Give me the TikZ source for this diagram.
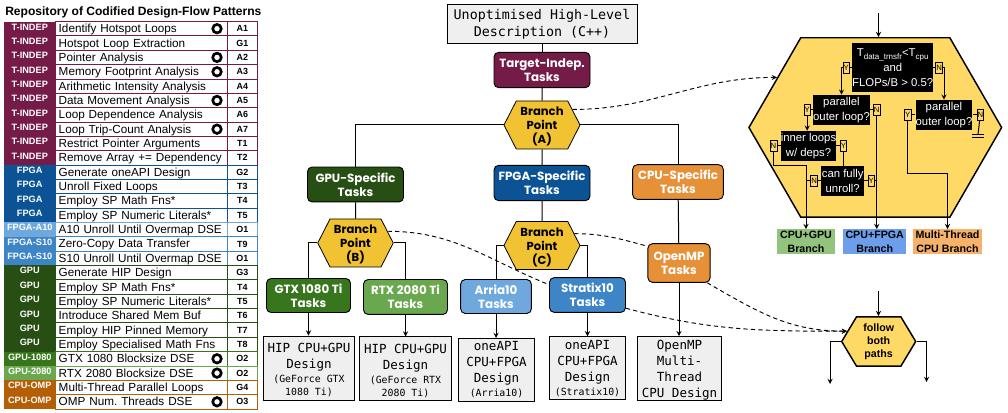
\documentclass[tikz,border=0pt]{standalone}
\usepackage{fontspec}
\setmainfont{Liberation Sans}
\newfontfamily\taskfont{Poppins}
\newfontfamily\codefont{DejaVu Sans Mono}
\usepackage{tikz}
\usetikzlibrary{positioning,shapes.geometric,shapes.symbols}
\definecolor{tindep}{HTML}{741B47}
\definecolor{fpga}{HTML}{0B5394}
\definecolor{aten}{HTML}{6FA8DC}
\definecolor{sten}{HTML}{3D85C6}
\definecolor{gpu}{HTML}{274E13}
\definecolor{gtx}{HTML}{38761D}
\definecolor{rtx}{HTML}{6AA84F}
\definecolor{omp}{HTML}{B45F06}
\definecolor{cpu}{HTML}{E69138}
\definecolor{gold}{HTML}{F1C232}
\definecolor{sand}{HTML}{FFD966}
\definecolor{paper}{HTML}{EFEFEF}
\definecolor{brgreen}{HTML}{93C47D}
\definecolor{brblue}{HTML}{6D9EEB}
\definecolor{brorange}{HTML}{F6B26B}
\newcommand{\subtxt}[1]{{\fontsize{7.4}{9}\selectfont #1}}
\newcommand{\lowtxt}[1]{\raisebox{-2.2pt}{\fontsize{6}{7}\selectfont #1}}
\newcommand{\toppad}[1]{\rule{0pt}{#1}}
\tikzset{
	taskbox/.style={draw=black,line width=0.7pt,rounded corners=3.5pt,text=white,align=center,inner sep=0pt,
		font=\taskfont\bfseries\fontsize{8.9}{10.5}\selectfont},
	designbox/.style={draw=black,line width=0.7pt,fill=paper,align=center,inner sep=0pt,
		font=\codefont\fontsize{9.4}{12}\selectfont},
	branchhex/.style={draw=black,line width=0.6pt,fill=gold,shape=signal,signal to=west and east,signal pointer angle=126,
		align=center,inner sep=0pt,font=\taskfont\bfseries\fontsize{8.7}{10.5}\selectfont},
	yellowhex/.style={draw=black,line width=1.1pt,fill=sand,shape=signal,signal to=west and east,inner sep=0pt},
	blackbox/.style={fill=black,text=white,align=center,inner sep=0pt,font=\fontsize{8.5}{11.25}\selectfont},
	yntag/.style={draw=black,line width=0.5pt,fill=sand,inner sep=0pt,minimum width=5pt,minimum height=8.25pt,
		font=\fontsize{5.8}{6}\selectfont},
	endbox/.style={align=center,inner sep=0pt,minimum width=44pt,minimum height=18.5pt,
		font=\bfseries\fontsize{8}{10.5}\selectfont},
	flowline/.style={black,line width=0.75pt},
	flowarrow/.style={flowline,-stealth},
	dashflow/.style={black,line width=0.7pt,dash pattern=on 3.2pt off 2.4pt},
	tagcell/.style={anchor=west,inner sep=0pt,minimum width=38.25pt,minimum height=10.76pt,text=white,
		text height=5pt,text depth=3pt,font=\bfseries\fontsize{6.9}{8}\selectfont},
	textcell/.style={anchor=west,inner sep=0pt,line width=0.6pt,minimum height=10.76pt,minimum width=129pt,
		text width=126pt,text height=7pt,text depth=1pt,font=\fontsize{8.8}{9}\selectfont},
	codecell/.style={anchor=west,inner sep=0pt,line width=0.6pt,minimum height=10.76pt,minimum width=22.5pt,
		font=\bfseries\fontsize{6.7}{8}\selectfont},
	ringmark/.style={circle,draw=black,fill=white,line width=2pt,minimum size=6.4pt,inner sep=0pt}
}
\begin{document}
\begin{tikzpicture}[x=0.75pt,y=-0.75pt]
	\useasboundingbox (0,0) rectangle (1008,413);
	\node[anchor=west,inner sep=0pt,font=\bfseries\fontsize{9.05}{10}\selectfont] (title) at (5,12) {Repository of Codified Design-Flow Patterns};
	\foreach \tg/\txt/\cd/\clr [count=\i] in {
		T-INDEP/Identify Hotspot Loops/A1/tindep,
		T-INDEP/Hotspot Loop Extraction/G1/tindep,
		T-INDEP/Pointer Analysis/A2/tindep,
		T-INDEP/Memory Footprint Analysis/A3/tindep,
		T-INDEP/Arithmetic Intensity Analysis/A4/tindep,
		T-INDEP/Data Movement Analysis/A5/tindep,
		T-INDEP/Loop Dependence Analysis/A6/tindep,
		T-INDEP/Loop Trip-Count Analysis/A7/tindep,
		T-INDEP/Restrict Pointer Arguments/T1/tindep,
		T-INDEP/Remove Array += Dependency/T2/tindep,
		FPGA/Generate oneAPI Design/G2/fpga,
		FPGA/Unroll Fixed Loops/T3/fpga,
		FPGA/Employ SP Math Fns*/T4/fpga,
		FPGA/Employ SP Numeric Literals*/T5/fpga,
		FPGA-A10/A10 Unroll Until Overmap DSE/O1/aten,
		FPGA-S10/Zero-Copy Data Transfer/T9/sten,
		FPGA-S10/S10 Unroll Until Overmap DSE/O1/sten,
		GPU/Generate HIP Design/G3/gpu,
		GPU/Employ SP Math Fns*/T4/gpu,
		GPU/Employ SP Numeric Literals*/T5/gpu,
		GPU/Introduce Shared Mem Buf/T6/gpu,
		GPU/Employ HIP Pinned Memory/T7/gpu,
		GPU/Employ Specialised Math Fns/T8/gpu,
		GPU-1080/GTX 1080 Blocksize DSE/O2/gtx,
		GPU-2080/RTX 2080 Blocksize DSE/O2/rtx,
		CPU-OMP/Multi-Thread Parallel Loops/G4/omp,
		CPU-OMP/OMP Num.\ Threads DSE/O3/omp}{
		\pgfmathsetmacro{\rowy}{14.36+14.35*\i}
		\node[textcell,draw=\clr] (txt\i) at (55,\rowy) {\hspace*{1pt}\txt};
		\node[codecell,draw=\clr] (code\i) at (227,\rowy) {\cd};
		\node[tagcell,fill=\clr] (tag\i) at (4,\rowy) {\tg};
	}
	\foreach \i in {1,3,4,6,8,24,25,27}{
		\pgfmathsetmacro{\rowy}{14.36+14.35*\i}
		\node[ringmark] (ring\i) at (217,\rowy) {};
	}

	\node[designbox,minimum width=142.5pt,minimum height=29pt,font=\codefont\fontsize{10}{12.5}\selectfont] (source) at (542,24) {Unoptimised High-Level\\Description (C++)};
	\node[taskbox,fill=tindep,minimum width=72pt,minimum height=26.5pt] (indep) at (542,70) {Target-Indep.\\Tasks};
	\node[branchhex,minimum width=57pt,minimum height=36pt] (pointA) at (542,125) {\toppad{9pt}Branch\\Point\\(A)};
	\node[taskbox,fill=gpu,minimum width=72pt,minimum height=26.2pt] (gpuT) at (355.5,184.5) {GPU-Specific\\Tasks};
	\node[taskbox,fill=fpga,minimum width=72pt,minimum height=26.5pt] (fpgaT) at (542,183) {FPGA-Specific\\Tasks};
	\node[taskbox,fill=cpu,minimum width=68pt,minimum height=26pt] (cpuT) at (678,182) {CPU-Specific\\Tasks};
	\node[branchhex,minimum width=56.6pt,minimum height=36pt] (pointB) at (355.5,243) {\toppad{9pt}Branch\\Point\\(B)};
	\node[branchhex,minimum width=57pt,minimum height=36pt] (pointC) at (542,245.5) {\toppad{9pt}Branch\\Point\\(C)};
	\node[taskbox,fill=gtx,minimum width=63pt,minimum height=25.5pt] (gtxT) at (308.5,295.5) {GTX 1080 Ti\\Tasks};
	\node[taskbox,fill=rtx,minimum width=63pt,minimum height=26.2pt] (rtxT) at (405.5,297) {RTX 2080 Ti\\Tasks};
	\node[taskbox,fill=aten,minimum width=53pt,minimum height=25.5pt] (arriaT) at (496,296.5) {Arria10\\Tasks};
	\node[taskbox,fill=sten,minimum width=57pt,minimum height=26pt] (stratixT) at (587.5,295) {Stratix10\\Tasks};
	\node[taskbox,fill=cpu,minimum width=46.7pt,minimum height=29pt] (ompT) at (679,263) {OpenMP\\Tasks};
	\node[designbox,minimum width=68.2pt,minimum height=48pt] (gtxD) at (309,368) {\toppad{10pt}HIP CPU+GPU\\Design\\[-1.5pt]\subtxt{(GeForce GTX}\\[-2.5pt]\subtxt{1080 Ti)}};
	\node[designbox,minimum width=69pt,minimum height=47.6pt] (rtxD) at (405.5,368.7) {\toppad{10pt}HIP CPU+GPU\\Design\\[-1.5pt]\subtxt{(GeForce RTX}\\[-2.5pt]\subtxt{2080 Ti)}};
	\node[designbox,minimum width=57pt,minimum height=47.3pt] (arriaD) at (496.5,370) {oneAPI\\CPU+FPGA\\Design\\[-1.5pt]\subtxt{(Arria10)}};
	\node[designbox,minimum width=57pt,minimum height=47.3pt] (stratixD) at (587.5,368.3) {oneAPI\\CPU+FPGA\\Design\\[-1.5pt]\subtxt{(Stratix10)}};
	\node[designbox,minimum width=63.3pt,minimum height=47.3pt] (ompD) at (679.5,368.3) {\toppad{9.5pt}OpenMP\\Multi-\\Thread\\CPU Design};

	\draw[flowline] (source) -- (indep);
	\draw[flowline] (indep) -- (pointA);
	\draw[flowline] (pointA.west) -| (gpuT);
	\draw[flowline] (pointA) -- (fpgaT);
	\draw[flowline] (pointA.east) -| (cpuT);
	\draw[flowline] (gpuT) -- (pointB);
	\draw[flowline] (fpgaT) -- (pointC);
	\draw[flowline] (cpuT) -- (ompT);
	\draw[flowline] (pointB.west) -| (gtxT);
	\draw[flowline] (pointB.east) -| (rtxT);
	\draw[flowline] (pointC.west) -| (arriaT);
	\draw[flowline] (pointC.east) -| (stratixT);
	\draw[flowarrow] (gtxT) -- (gtxT |- gtxD.north);
	\draw[flowarrow] (rtxT) -- (rtxT |- rtxD.north);
	\draw[flowarrow] (arriaT) -- (arriaT |- arriaD.north);
	\draw[flowarrow] (stratixT) -- (stratixD);
	\draw[flowarrow] (ompT) -- (ompT |- ompD.north);

	\node[yellowhex,signal pointer angle=120,minimum width=189.5pt,minimum height=134.6pt] (heuristic) at (875.3,127.5) {};
	\coordinate (heurIn) at (878.5,13);
	\draw[flowarrow] (heurIn) -- (heurIn |- heuristic.north);
	\node[blackbox,minimum width=59pt,minimum height=36.5pt] (decide) at (892.7,67.4) {T\lowtxt{data\_trnsfr}<T\lowtxt{cpu}\\and\\FLOPs/B > 0.5?};
	\node[blackbox,minimum width=41.2pt,minimum height=22.5pt] (parouterA) at (841.5,110) {parallel\\outer loop?};
	\node[blackbox,minimum width=40.5pt,minimum height=22.5pt] (parouterB) at (944,115) {parallel\\outer loop?};
	\node[blackbox,minimum width=41.2pt,minimum height=22.5pt] (innerloops) at (808.5,146) {inner loops\\w/ deps?};
	\node[blackbox,minimum width=32pt,minimum height=22.5pt] (unroll) at (842.7,181) {can fully\\unroll?};
	\node[yntag,left=1.5pt of decide] (decideY) {Y};
	\node[yntag,right=1.5pt of decide] (decideN) {N};
	\node[yntag,left=1.5pt of parouterA] (parAY) {Y};
	\node[yntag,right=2.2pt of parouterA] (parAN) {N};
	\node[yntag,left=3pt of parouterB] (parBY) {Y};
	\node[yntag,right=3pt of parouterB] (parBN) {N};
	\node[yntag,left=2.5pt of innerloops] (innerN) {N};
	\node[yntag,right=2.5pt of innerloops] (innerY) {Y};
	\node[yntag,left=2.5pt of unroll] (unrollN) {N};
	\node[yntag,right=2.5pt of unroll] (unrollY) {Y};
	\node[endbox,fill=brgreen] (gpuB) at (806,241.7) {CPU+GPU\\Branch};
	\node[endbox,fill=brblue,minimum width=47pt] (fpgaB) at (874.7,241.7) {CPU+FPGA\\Branch};
	\node[endbox,fill=brorange,minimum width=52pt] (threadB) at (947.5,241.7) {Multi-Thread\\CPU Branch};

	\coordinate (jogA) at (806,166);
	\coordinate (jogB) at (947.5,174);
	\coordinate (groundA) at (978,134.5);
	\coordinate (groundB) at (978,137.2);
	\draw[flowline] (decideY) -- (decide);
	\draw[flowline] (decideN) -- (decide);
	\draw[flowarrow] (decideY.west) -| (parouterA);
	\draw[flowarrow] (decideN.east) -| (parouterB);
	\draw[flowline] (parAY) -- (parouterA);
	\draw[flowline] (parAN) -- (parouterA);
	\draw[flowline] (parBY) -- (parouterB);
	\draw[flowline] (parBN) -- (parouterB);
	\draw[flowline] (innerN) -- (innerloops);
	\draw[flowline] (innerY) -- (innerloops);
	\draw[flowline] (unrollN) -- (unroll);
	\draw[flowline] (unrollY) -- (unroll);
	\draw[flowarrow] (parAY) -- (parAY |- innerloops.north);
	\draw[flowarrow] (parAN) -- (parAN |- fpgaB.north);
	\draw[flowline] (innerY) -- (innerY |- unroll.north);
	\draw[flowarrow] (innerN) |- (jogA) -- (gpuB);
	\draw[flowline] (unrollN) -- (unrollN -| gpuB);
	\draw[flowline] (unrollY) -- (unrollY -| parAN);
	\draw[flowarrow] (parBY) |- (jogB) -- (threadB);
	\draw[flowline] (parBN) -- (groundA);
	\draw[line width=1pt] ([xshift=-4.2pt]groundA) -- ([xshift=4.2pt]groundA);
	\draw[line width=1pt] ([xshift=-4.2pt]groundB) -- ([xshift=4.2pt]groundB);

	\node[yellowhex,signal pointer angle=118,text=black,align=center,minimum width=55.5pt,minimum height=37pt,
		font=\bfseries\fontsize{8}{9.8}\selectfont] (follow) at (878.7,341.5) {follow\\both\\paths};
	\coordinate (followIn) at (878.5,291.5);
	\coordinate (leftOut) at (830,384);
	\coordinate (rightOut) at (926.5,382);
	\draw[flowarrow] (followIn) -- (followIn |- follow.north);
	\draw[flowarrow] (follow.west) -| (leftOut);
	\draw[flowarrow] (follow.east) -| (rightOut);

	\draw[dashflow,-stealth] (pointA.27) to[out=0,in=180] (heuristic.153);
	\draw[dashflow] (pointB.20) to[out=0,in=158] (stratixT.165);
	\draw[dashflow] (pointC.20) to[out=0,in=165] (ompT.152);
	\draw[dashflow,-stealth] (stratixT.-19) to[out=-15,in=180] (follow.162);
	\draw[dashflow,-stealth] (ompT.-35) to[out=-30,in=180] (follow.162);
\end{tikzpicture}
\end{document}
